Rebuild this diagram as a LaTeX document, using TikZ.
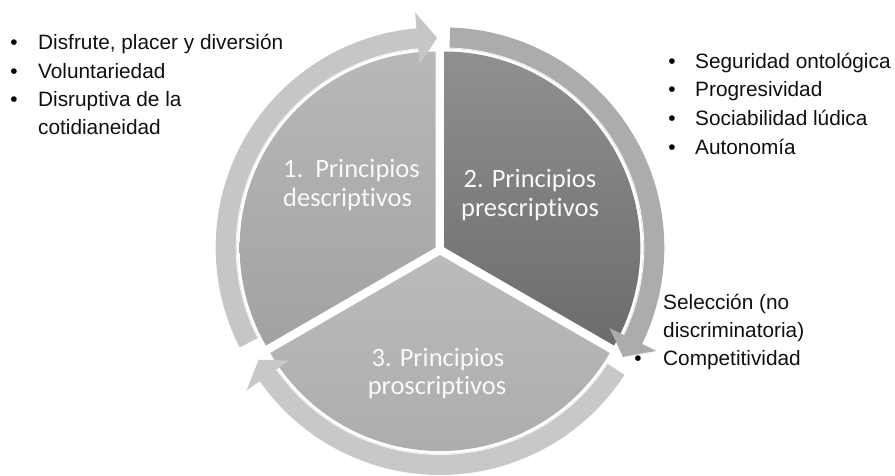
\documentclass[tikz,border=0pt]{standalone}
\usepackage{fontspec}
\setmainfont{Liberation Sans}
\newfontfamily\calib[Ligatures=NoCommon]{Carlito}
\definecolor{sAt}{HTML}{B8B8B8}
\definecolor{sAb}{HTML}{A2A2A2}
\definecolor{sBt}{HTML}{909090}
\definecolor{sBb}{HTML}{6C6C6C}
\definecolor{sCt}{HTML}{BBBBBB}
\definecolor{sCb}{HTML}{ABABAB}
\definecolor{rA}{HTML}{C6C6C6}
\definecolor{rB}{HTML}{ACACAC}
\definecolor{rC}{HTML}{C8C8C8}
\definecolor{txt}{HTML}{101010}
\newcommand\ringarrow[5]{%
  \begin{scope}[shift={(#1)}]
    \path[#5] (#2:220) arc[start angle=#2,end angle=#3,radius=220]
      -- (#3:236) -- (#4:209.5) -- (#3:184) -- (#3:199)
      arc[start angle=#3,end angle=#2,radius=199] -- cycle;
    \draw[white!92!gray,line width=0.9pt] (#3:199.5) arc[start angle=#3,end angle=#2,radius=199.5];
  \end{scope}}
\begin{document}
\begin{tikzpicture}[x=1pt,y=1pt,
  bl/.style={font=\fontsize{20.8}{24}\selectfont, text=txt, anchor=base west, inner sep=0pt},
  dot/.style={font=\fontsize{20.8}{24}\selectfont, text=black, anchor=base, inner sep=0pt},
  lab/.style={font=\calib\fontsize{26.5}{29}\selectfont, text=white!95!gray, inner sep=0pt, anchor=base},
]
\useasboundingbox (0,0) rectangle (895,476);
\coordinate (c1) at (435.67,228.5);
\coordinate (c2) at (444.33,228.5);
\coordinate (c3) at (440,221);
% sectors
\path[top color=sAt,bottom color=sAb] (c1) -- ++(90:196) arc[start angle=90,end angle=210,radius=196] -- cycle;
\path[top color=sBt,bottom color=sBb] (c2) -- ++(-30:196) arc[start angle=-30,end angle=90,radius=196] -- cycle;
\path[top color=sCt,bottom color=sCb] (c3) -- ++(210:196) arc[start angle=210,end angle=330,radius=196] -- cycle;
% ring arrows
\ringarrow{c1}{207}{95}{89.6}{fill=rA}
\ringarrow{c2}{88.5}{-26}{-31.5}{fill=rB}
\ringarrow{c3}{327}{215}{210}{fill=rC}
% sector labels
\node[lab,anchor=base west] (p1a) at (283,298) {1.\ \ Principios};
\node[lab,anchor=base west] (p1b) at (283,269) {descriptivos};
\node[lab] (p2a) at (530,288) {2. Principios};
\node[lab] (p2b) at (530,259) {prescriptivos};
\node[lab] (p3a) at (438,109) {3. Principios};
\node[lab] (p3b) at (437,81) {proscriptivos};
% left list
\node[dot] (lb1) at (14,426) {•};
\node[dot] (lb2) at (14,397) {•};
\node[dot] (lb3) at (14,369) {•};
\node[bl] (l1) at (38,426) {Disfrute, placer y diversión};
\node[bl] (l2) at (38,397) {Voluntariedad};
\node[bl] (l3) at (38,369) {Disruptiva de la};
\node[bl] (l4) at (38,341) {cotidianeidad};
% right list
\node[dot] (rb1) at (672,407) {•};
\node[dot] (rb2) at (672,379) {•};
\node[dot] (rb3) at (672,350) {•};
\node[dot] (rb4) at (672,321) {•};
\node[bl] (r1) at (695,407) {Seguridad ontológica};
\node[bl] (r2) at (695,379) {Progresividad};
\node[bl] (r3) at (695,350) {Sociabilidad lúdica};
\node[bl] (r4) at (695,321) {Autonomía};
% bottom right list
\node[bl] (b1) at (663,166) {Selección (no};
\node[bl] (b2) at (663,138) {discriminatoria)};
\node[dot] (bb3) at (638,110) {•};
\node[bl] (b3) at (663,110) {Competitividad};
\end{tikzpicture}
\end{document}
